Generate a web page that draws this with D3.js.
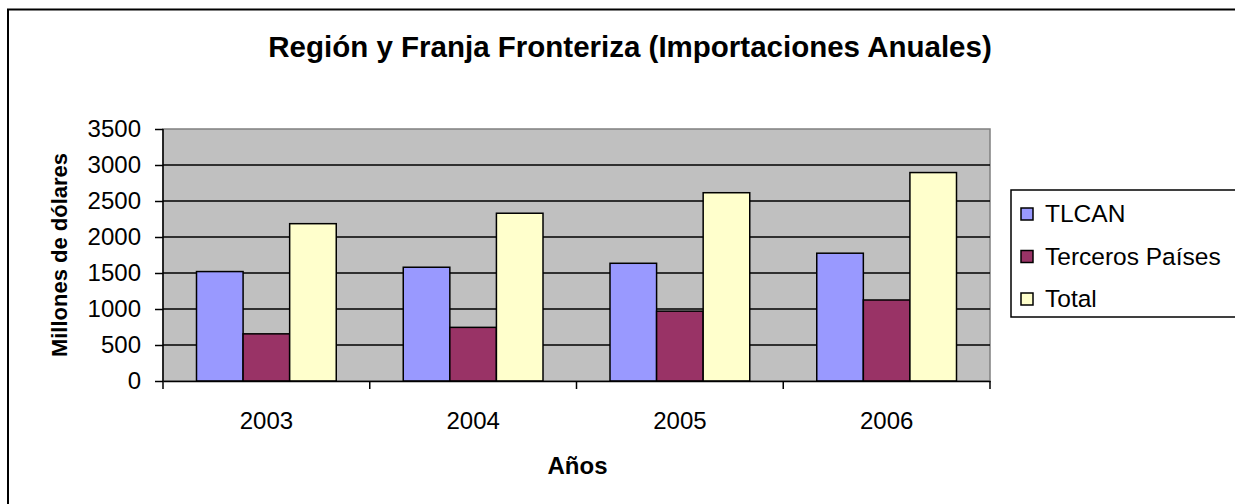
<!DOCTYPE html>
<html>
<head>
<meta charset="utf-8">
<script src="https://cdn.jsdelivr.net/npm/d3@7"></script>
<style>
  body { margin: 0; background: #fff; }
  svg { display: block; font-family: "Liberation Sans", Arial, sans-serif; }
</style>
</head>
<body>
<div id="chart"></div>
<script>
// data
const years = ["2003", "2004", "2005", "2006"];
const seriesNames = ["TLCAN", "Terceros Países", "Total"];
const tlcan = [1520, 1580, 1635, 1775];
const terceros = [655, 745, 970, 1125];
const total = [2185, 2330, 2615, 2895];
const yTicks = [0, 500, 1000, 1500, 2000, 2500, 3000, 3500];
const colors = ["#9999FF", "#993366", "#FFFFCC"];

const W = 1235, H = 504;
const margin = { top: 129, left: 163, right: 245, bottom: 123 };
const width = W - margin.left - margin.right,
      height = H - margin.top - margin.bottom;
const FONT = "Liberation Sans, Arial, sans-serif";

const svg = d3.select("#chart").append("svg")
  .attr("width", W).attr("height", H);

// outer chart border (runs off the right and bottom)
svg.append("rect")
  .attr("x", 8).attr("y", 9.5)
  .attr("width", W + 20).attr("height", H + 20)
  .attr("fill", "white").attr("stroke", "black").attr("stroke-width", 2);

svg.append("text")
  .attr("x", 630).attr("y", 57)
  .attr("text-anchor", "middle")
  .attr("font-size", 29.5).attr("font-weight", "bold")
  .text("Región y Franja Fronteriza (Importaciones Anuales)");

const g = svg.append("g").attr("transform", `translate(${margin.left},${margin.top})`);

const x0 = d3.scaleBand().domain(years).range([0, width]).paddingInner(0).paddingOuter(0);
const x1 = d3.scaleBand().domain(seriesNames).range([33.5, x0.bandwidth() - 33.5]);
const y = d3.scaleLinear().domain([0, 3500]).range([height, 0]);

// plot background
g.append("rect")
  .attr("width", width).attr("height", height)
  .attr("fill", "#C0C0C0").attr("stroke", "#808080").attr("stroke-width", 1.5);

// gridlines
g.selectAll(".grid").data(yTicks.filter(d => d > 0 && d < 3500))
  .enter().append("line")
  .attr("x1", 0).attr("x2", width)
  .attr("y1", d => y(d)).attr("y2", d => y(d))
  .attr("stroke", "black").attr("stroke-width", 1.5);

const rows = years.map((yr, i) => ({ year: yr, values: [tlcan[i], terceros[i], total[i]] }));

const groups = g.selectAll(".grp").data(rows).enter().append("g")
  .attr("transform", d => `translate(${x0(d.year)},0)`);

groups.selectAll("rect")
  .data(d => d.values.map((v, j) => ({ name: seriesNames[j], value: v, c: colors[j] })))
  .enter().append("rect")
  .attr("x", d => x1(d.name))
  .attr("y", d => y(d.value))
  .attr("width", x1.bandwidth())
  .attr("height", d => height - y(d.value))
  .attr("fill", d => d.c)
  .attr("stroke", "black").attr("stroke-width", 1.5);

// y axis
const yAxis = g.append("g")
  .call(d3.axisLeft(y).tickValues(yTicks).tickSize(8).tickPadding(14).tickFormat(d3.format("d")));
yAxis.select(".domain").attr("stroke-width", 1.5).attr("d", `M0,0V${height}`);
yAxis.selectAll(".tick line").attr("stroke-width", 1.5);
yAxis.selectAll("text").attr("font-size", 24).attr("fill", "black").attr("font-family", FONT);

// x axis
const xAxis = g.append("g").attr("transform", `translate(0,${height})`)
  .call(d3.axisBottom(x0).tickSize(0));
xAxis.select(".domain").attr("stroke-width", 1.5);
xAxis.selectAll("text").attr("font-size", 24).attr("fill", "black").attr("font-family", FONT)
  .attr("y", 48).attr("dy", 0);
xAxis.selectAll(".xt").data(d3.range(years.length + 1)).enter().append("line")
  .attr("x1", i => i * x0.bandwidth()).attr("x2", i => i * x0.bandwidth())
  .attr("y1", 0).attr("y2", 8)
  .attr("stroke", "black").attr("stroke-width", 1.5);

// axis titles
svg.append("text")
  .attr("transform", `translate(67,${margin.top + height / 2}) rotate(-90)`)
  .attr("text-anchor", "middle")
  .attr("font-size", 22).attr("font-weight", "bold")
  .text("Millones de dólares");

svg.append("text")
  .attr("x", margin.left + width / 2 + 1).attr("y", 474)
  .attr("text-anchor", "middle")
  .attr("font-size", 24).attr("font-weight", "bold")
  .text("Años");

// legend
const leg = svg.append("g").attr("transform", "translate(1011,190)");
leg.append("rect")
  .attr("width", 240).attr("height", 127)
  .attr("fill", "white").attr("stroke", "black").attr("stroke-width", 1.5);
const items = leg.selectAll(".item").data(seriesNames).enter().append("g")
  .attr("transform", (d, i) => `translate(0,${32 + i * 42.5})`);
items.append("rect")
  .attr("x", 10).attr("y", -14).attr("width", 12).attr("height", 12)
  .attr("fill", (d, i) => colors[i]).attr("stroke", "black").attr("stroke-width", 1.5);
items.append("text")
  .attr("x", 34).attr("y", 0)
  .attr("font-size", 24.5)
  .text(d => d);
</script>
</body>
</html>
